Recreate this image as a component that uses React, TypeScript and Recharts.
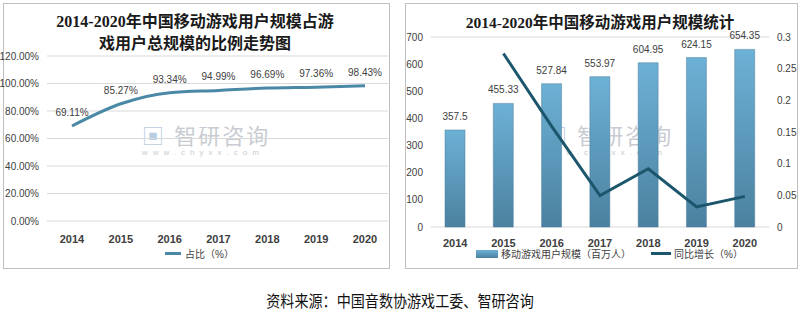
import React from "react";
import {
  LineChart,
  Line,
  Bar,
  ComposedChart,
  XAxis,
  YAxis,
  CartesianGrid,
  LabelList,
} from "recharts";

const years = ["2014", "2015", "2016", "2017", "2018", "2019", "2020"];
const shareOfGameUsers = [69.11, 85.27, 93.34, 94.99, 96.69, 97.36, 98.43];
const mobileUsers = [357.5, 455.33, 527.84, 553.97, 604.95, 624.15, 654.35];
const yoyGrowth = [null, 0.274, 0.159, 0.0495, 0.092, 0.0317, 0.0484];

const shareTicks = [0, 20, 40, 60, 80, 100, 120];
const userTicks = [0, 100, 200, 300, 400, 500, 600, 700];
const growthTicks = [0, 0.05, 0.1, 0.15, 0.2, 0.25, 0.3];

const leftData = years.map((y, i) => ({ year: y, share: shareOfGameUsers[i] }));
const rightData = years.map((y, i) => ({
  year: y,
  users: mobileUsers[i],
  growth: yoyGrowth[i],
}));

const titleFont = "'Liberation Serif', 'Noto Sans CJK SC', serif";
const bodyFont = "'Liberation Sans', 'Noto Sans CJK SC', sans-serif";
const tickStyle = { fill: "#404040", fontSize: 10, fontFamily: bodyFont };
const xTickStyle = { fill: "#404040", fontSize: 11, fontWeight: 700, fontFamily: bodyFont };

function Watermark({ left, top }: { left: number; top: number }) {
  return (
    <div style={{ position: "absolute", left, top, color: "#c8ccd2", fontFamily: bodyFont }}>
      <div style={{ fontSize: 22, letterSpacing: 2 }}>
        <span style={{ color: "#b9cde3" }}>▣</span> 智研咨询
      </div>
      <div style={{ fontSize: 8, letterSpacing: 5, marginTop: -2 }}>www.chyxx.com</div>
    </div>
  );
}

export default function App() {
  return (
    <div
      style={{
        position: "absolute",
        left: 0,
        top: 0,
        width: 800,
        height: 321,
        background: "#fff",
        fontFamily: bodyFont,
      }}
    >
      {/* left panel */}
      <div
        style={{
          position: "absolute",
          left: 3,
          top: 3,
          width: 385,
          height: 264,
          border: "1px solid #bfbfbf",
        }}
      />
      <div
        style={{
          position: "absolute",
          left: 0,
          top: 11,
          width: 390,
          textAlign: "center",
          fontFamily: titleFont,
          fontWeight: 700,
          fontSize: 16,
          lineHeight: "22px",
          color: "#1a1a1a",
        }}
      >
        2014-2020年中国移动游戏用户规模占游
        <br />
        戏用户总规模的比例走势图
      </div>
      <Watermark left={142} top={118} />
      <div style={{ position: "absolute", left: 0, top: 0 }}>
        <LineChart
          width={390}
          height={270}
          data={leftData}
          margin={{ top: 56, right: 2, left: 0, bottom: 24 }}
        >
          <CartesianGrid vertical={false} stroke="#d9d9d9" />
          <XAxis
            dataKey="year"
            axisLine={false}
            tickLine={false}
            tick={xTickStyle}
            height={25}
            tickMargin={8}
            padding={{ left: 25, right: 23 }}
          />
          <YAxis
            width={47}
            domain={[0, 120]}
            ticks={shareTicks}
            axisLine={false}
            tickLine={false}
            tick={tickStyle}
            tickFormatter={(v: number) => v.toFixed(2) + "%"}
          />
          <Line
            type="monotone"
            dataKey="share"
            stroke="#4a89a6"
            strokeWidth={3}
            dot={false}
            isAnimationActive={false}
          >
            <LabelList
              dataKey="share"
              position="top"
              offset={10}
              formatter={(v: number) => v.toFixed(2) + "%"}
              style={{ fill: "#404040", fontSize: 10, fontFamily: bodyFont }}
            />
          </Line>
        </LineChart>
      </div>
      <div
        style={{
          position: "absolute",
          left: 165,
          top: 246,
          display: "flex",
          alignItems: "center",
          fontSize: 10,
          color: "#404040",
        }}
      >
        <span style={{ display: "inline-block", width: 16, height: 3, background: "#4a89a6", marginRight: 4 }} />
        占比（%）
      </div>

      {/* right panel */}
      <div
        style={{
          position: "absolute",
          left: 405,
          top: 3,
          width: 391,
          height: 264,
          border: "1px solid #bfbfbf",
        }}
      />
      <div
        style={{
          position: "absolute",
          left: 400,
          top: 12,
          width: 400,
          textAlign: "center",
          fontFamily: titleFont,
          fontWeight: 700,
          fontSize: 15.5,
          lineHeight: "22px",
          color: "#1a1a1a",
        }}
      >
        2014-2020年中国移动游戏用户规模统计
      </div>
      <Watermark left={545} top={118} />
      <div style={{ position: "absolute", left: 400, top: 0 }}>
        <ComposedChart
          width={400}
          height={270}
          data={rightData}
          margin={{ top: 37, right: 2, left: 0, bottom: 23 }}
        >
          <defs>
            <linearGradient id="barGrad" x1="0" y1="0" x2="0" y2="1">
              <stop offset="0%" stopColor="#6db1d6" />
              <stop offset="100%" stopColor="#4b819f" />
            </linearGradient>
          </defs>
          <CartesianGrid vertical={false} stroke="#d9d9d9" />
          <XAxis
            dataKey="year"
            axisLine={false}
            tickLine={false}
            tick={xTickStyle}
            height={20}
            tickMargin={6}
          />
          <YAxis
            yAxisId="left"
            width={31}
            domain={[0, 700]}
            ticks={userTicks}
            axisLine={false}
            tickLine={false}
            tick={tickStyle}
          />
          <YAxis
            yAxisId="right"
            orientation="right"
            width={29}
            domain={[0, 0.3]}
            ticks={growthTicks}
            axisLine={false}
            tickLine={false}
            tick={tickStyle}
          />
          <Bar
            yAxisId="left"
            dataKey="users"
            barSize={20}
            fill="url(#barGrad)"
            stroke="#4a7f9c"
            strokeWidth={0.5}
            isAnimationActive={false}
          >
            <LabelList
              dataKey="users"
              position="top"
              offset={10}
              style={{ fill: "#404040", fontSize: 10, fontFamily: bodyFont }}
            />
          </Bar>
          <Line
            yAxisId="right"
            type="linear"
            dataKey="growth"
            stroke="#1b566d"
            strokeWidth={3}
            dot={false}
            connectNulls={false}
            isAnimationActive={false}
          />
        </ComposedChart>
      </div>
      <div
        style={{
          position: "absolute",
          left: 476,
          top: 246,
          display: "flex",
          alignItems: "center",
          fontSize: 10,
          color: "#404040",
        }}
      >
        <span
          style={{
            display: "inline-block",
            width: 22,
            height: 8,
            background: "linear-gradient(#6db1d6, #4b819f)",
            marginRight: 3,
          }}
        />
        移动游戏用户规模（百万人）
        <span
          style={{
            display: "inline-block",
            width: 20,
            height: 3,
            background: "#1b566d",
            marginLeft: 20,
            marginRight: 3,
          }}
        />
        同比增长（%）
      </div>

      <div
        style={{
          position: "absolute",
          left: 0,
          top: 288,
          width: 800,
          textAlign: "center",
          fontSize: 16,
          color: "#111",
          fontFamily: "'Noto Sans CJK SC', sans-serif",
        }}
      >
        <span style={{ display: "inline-block", transform: "scaleX(0.88)" }}>
          资料来源：中国音数协游戏工委、智研咨询
        </span>
      </div>
    </div>
  );
}
